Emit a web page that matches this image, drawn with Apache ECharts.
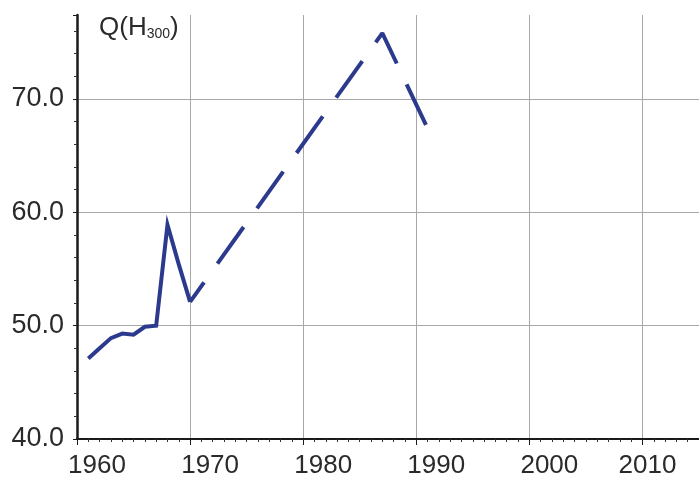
<!DOCTYPE html>
<html><head><meta charset="utf-8">
<script src="https://cdn.jsdelivr.net/npm/echarts@6/dist/echarts.min.js"></script>
<style>html,body{margin:0;padding:0;background:#fff}#c{width:699px;height:485px}</style>
</head><body><div id="c"></div>
<script>
// Observed (solid) segment
const solidYears = [1961, 1962, 1963, 1964, 1965, 1966, 1967, 1968, 1969, 1970];
const solidValues = [47.1, 48.0, 48.9, 49.3, 49.2, 49.9, 50.0, 58.9, 55.4, 52.1];
// Projected (dashed) segment
const dashYears = [1970, 1987, 1991];
const dashValues = [52.1, 75.8, 67.4];
const xTicks = [1960, 1970, 1980, 1990, 2000, 2010];
const yTicks = [40, 50, 60, 70];

const lineColor = '#2c3a8e';
const txt = '#2a2a2a';
const chart = echarts.init(document.getElementById('c'), null, {renderer: 'canvas'});
chart.setOption({
  animation: false,
  backgroundColor: '#fff',
  grid: {left: 77, right: 0, top: 15, bottom: 46, containLabel: false},
  title: {
    left: 94, top: 10,
    text: '{a|Q(H}{s|300}{a|)}',
    textStyle: {
      fontWeight: 'normal',
      rich: {
        a: {fontFamily: 'Liberation Sans', fontSize: 26, lineHeight: 26, fontWeight: 'normal', color: txt},
        s: {fontFamily: 'Liberation Sans', fontSize: 14, lineHeight: 10, fontWeight: 'normal', color: txt, verticalAlign: 'bottom'}
      }
    }
  },
  xAxis: {
    type: 'value', min: 1960, max: 2015, interval: 10,
    axisLine: {show: true, onZero: false, lineStyle: {color: '#1a1a1a', width: 2}},
    axisTick: {show: true, length: 6, lineStyle: {color: '#1a1a1a', width: 1}},
    minorTick: {show: true, splitNumber: 10, length: 3, lineStyle: {color: '#333', width: 1}},
    splitLine: {show: true, showMaxLine: false, lineStyle: {color: '#a8a8a8', width: 1}},
    axisLabel: {
      showMaxLabel: false, margin: 14,
      formatter: v => xTicks.includes(v) ? (v === 2010 ? '{b|' + v + '}' : '{a|' + v + '}') : '',
      rich: {
        a: {fontFamily: 'Liberation Sans', fontSize: 26, color: txt, padding: [0, 0, 0, 40]},
        b: {fontFamily: 'Liberation Sans', fontSize: 26, color: txt, padding: [0, 0, 0, 10]}
      }
    }
  },
  yAxis: {
    type: 'value', min: 40, max: 77.4, interval: 10,
    axisLine: {show: true, onZero: false, lineStyle: {color: '#1a1a1a', width: 2.5}},
    axisTick: {show: true, length: 4, lineStyle: {color: '#1a1a1a', width: 1}},
    minorTick: {show: true, splitNumber: 5, length: 3, lineStyle: {color: '#333', width: 1}},
    splitLine: {show: true, showMaxLine: false, showMinLine: false, lineStyle: {color: '#a8a8a8', width: 1}},
    axisLabel: {
      showMaxLabel: false, margin: 13,
      formatter: v => yTicks.includes(v) ? v.toFixed(1) : '',
      fontFamily: 'Liberation Sans', fontSize: 27, color: txt, padding: [0, 0, 5, 0]
    }
  },
  series: [
    {
      type: 'line', symbol: 'none', clip: false,
      data: solidYears.map((y, i) => [y, solidValues[i]]),
      lineStyle: {color: lineColor, width: 4, join: 'miter'}
    },
    {
      type: 'line', symbol: 'none', clip: false,
      data: dashYears.map((y, i) => [y, dashValues[i]]),
      lineStyle: {color: lineColor, width: 4, type: [45, 23], dashOffset: 21}
    }
  ]
});
</script></body></html>
